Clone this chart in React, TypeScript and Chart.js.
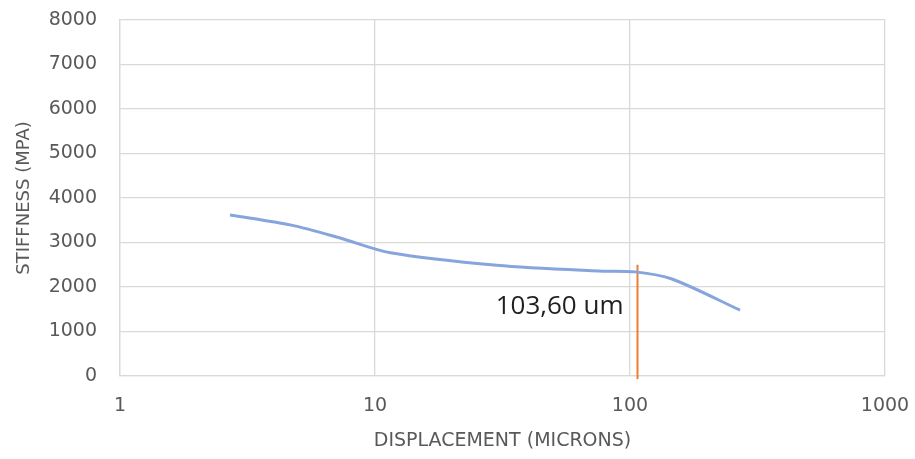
import React, { useEffect, useRef } from "react";
import { Chart, registerables } from "chart.js";

Chart.register(...registerables);

const displacement = [2.7, 4.7, 7.3, 11.5, 30, 75, 105, 146, 270];
const stiffness = [3620, 3390, 3100, 2770, 2490, 2360, 2340, 2180, 1480];
const markerX = [107, 107];
const markerY = [-70, 2500];
const markerLabel = "103,60 um";
const markerLabelY = 1570;
const xTicks = [1, 10, 100, 1000];

const TICK_FONT = "'DejaVu Sans', sans-serif";
const LABEL_FONT = "'Open Sans', 'Liberation Sans', sans-serif";

const labelPlugin = {
  id: "markerLabel",
  afterDatasetsDraw(chart: any) {
    const { ctx, scales } = chart;
    const x = scales.x.getPixelForValue(markerX[0]);
    const y = scales.y.getPixelForValue(markerLabelY);
    ctx.save();
    ctx.font = `26px ${LABEL_FONT}`;
    ctx.fillStyle = "#1f1f1f";
    ctx.textAlign = "right";
    ctx.textBaseline = "middle";
    ctx.fillText(markerLabel, x - 14, y);
    ctx.restore();
  },
};

export default function App() {
  const ref = useRef<HTMLCanvasElement | null>(null);
  useEffect(() => {
    if (!ref.current) return;
    const chart = new Chart(ref.current, {
      type: "line",
      data: {
        datasets: [
          {
            data: displacement.map((x, i) => ({ x, y: stiffness[i] })),
            borderColor: "#85a5dc",
            borderWidth: 3,
            pointRadius: 0,
            tension: 0.3,
            fill: false,
          },
          {
            data: markerX.map((x, i) => ({ x, y: markerY[i] })),
            borderColor: "#ed7d31",
            borderWidth: 2,
            pointRadius: 0,
            clip: false as any,
            fill: false,
          },
        ],
      },
      options: {
        animation: false,
        responsive: true,
        maintainAspectRatio: false,
        layout: { padding: { top: 20, right: 30, left: 0, bottom: 0 } },
        plugins: { legend: { display: false }, tooltip: { enabled: false } },
        scales: {
          x: {
            type: "logarithmic",
            min: 1,
            max: 1000,
            afterBuildTicks: (s: any) => {
              s.ticks = xTicks.map((v) => ({ value: v }));
            },
            afterFit: (s: any) => {
              s.height = 83;
              s.paddingLeft = 0;
              s.paddingRight = 0;
            },
            ticks: {
              color: "#595959",
              font: { family: TICK_FONT, size: 19 },
              padding: 19,
              maxRotation: 0,
              autoSkip: false,
              callback: (v: any) => String(v),
            },
            grid: { color: "#d9d9d9", lineWidth: 1.3, drawTicks: false },
            border: { color: "#d9d9d9", width: 1.3 },
            title: {
              display: true,
              text: "DISPLACEMENT (MICRONS)",
              color: "#595959",
              font: { family: TICK_FONT, size: 19 },
              padding: 7,
            },
          },
          y: {
            min: 0,
            max: 8000,
            afterFit: (s: any) => {
              s.width = 120;
              s.paddingTop = 0;
              s.paddingBottom = 0;
            },
            ticks: {
              stepSize: 1000,
              color: "#595959",
              font: { family: TICK_FONT, size: 19 },
              padding: 23,
              callback: (v: any) => String(v),
            },
            grid: { color: "#d9d9d9", lineWidth: 1.3, drawTicks: false },
            border: { color: "#d9d9d9", width: 1.3 },
            title: {
              display: true,
              text: "STIFFNESS (MPA)",
              color: "#595959",
              font: { family: TICK_FONT, size: 18 },
              padding: { top: 14, bottom: 0 },
            },
          },
        },
      },
      plugins: [labelPlugin],
    });
    return () => chart.destroy();
  }, []);
  return (
    <div style={{ position: "fixed", left: 0, top: 0, width: 915, height: 459, background: "#fff" }}>
      <canvas ref={ref} />
    </div>
  );
}
